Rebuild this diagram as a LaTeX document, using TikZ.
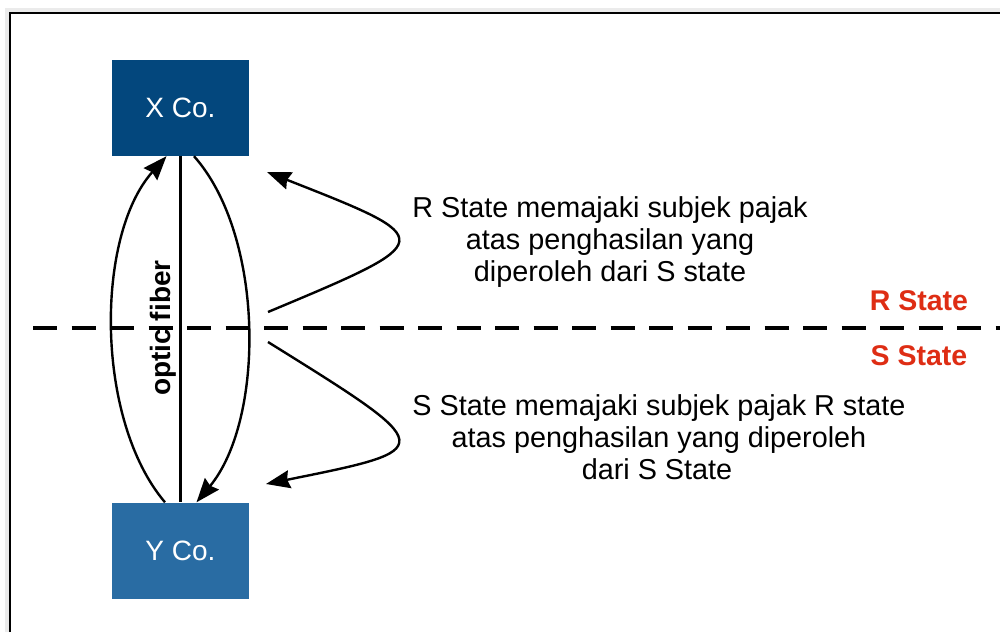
\documentclass[tikz,border=0pt]{standalone}
\usepackage{fontspec}
\setmainfont{Liberation Sans}
\usetikzlibrary{arrows.meta}
\definecolor{xblue}{RGB}{3,71,125}
\definecolor{yblue}{RGB}{41,108,163}
\definecolor{statered}{RGB}{222,45,20}
\begin{document}
\begin{tikzpicture}[x=1pt,y=-1pt,
  company/.style={draw=none, minimum width=137pt, minimum height=96pt, inner sep=0pt, text=white, font=\fontsize{28}{32}\selectfont},
  link/.style={line width=2.4pt, black},
  arrowed/.style={-{Stealth[length=24pt,width=18pt,inset=2.5pt]}},
  txt/.style={anchor=base, inner sep=0pt, font=\fontsize{28.8}{32}\selectfont},
  statelbl/.style={anchor=base, inner sep=0pt, text=statered, font=\bfseries\fontsize{28.5}{32}\selectfont},
  divider/.style={line width=4.5pt, black, dash pattern=on 24pt off 14.5pt}]
\useasboundingbox (0,0) rectangle (1000,632);
% frame
\draw[line width=4pt, black!8] (7,632) -- (7,10) -- (1000,10);
\draw[line width=2pt] (10,632) -- (10,13) -- (1000,13);
% companies
\node[company, fill=xblue] (X) at (180.5,108) {X Co.};
\node[company, fill=yblue] (Y) at (180.5,550.5) {Y Co.};
% dashed divider
\coordinate (dl) at (33,328);
\coordinate (dr) at (1000,328);
\draw[divider] (dl) -- (dr);
% links between companies
\draw[link] (X.south) -- (Y.north);
\draw[link, arrowed] ([xshift=-15.5pt]Y.north) .. controls (95,420) and (95,236) .. ([xshift=-14pt]X.south);
\draw[link, arrowed] ([xshift=13.5pt]X.south) .. controls (265,236) and (265,420) .. ([xshift=16pt]Y.north);
\node[rotate=90, inner sep=0pt, font=\bfseries\fontsize{28}{32}\selectfont] (of) at (163,328) {optic fiber};
% curved arrows
\coordinate (r1) at (268,312);
\coordinate (r2) at (267,172);
\coordinate (s1) at (268,342);
\coordinate (s2) at (266,484);
\draw[link, arrowed] (r1) .. controls (440,240) and (440,240) .. (r2);
\draw[link, arrowed] (s1) .. controls (440,449) and (440,449) .. (s2);
% texts
\node[txt] (ra) at (610,217) {R State memajaki subjek pajak};
\node[txt] (rb) at (610,249) {atas penghasilan yang};
\node[txt] (rc) at (610,281) {diperoleh dari S state};
\node[txt] (sa) at (659,415) {S State memajaki subjek pajak R state};
\node[txt] (sb) at (659,447) {atas penghasilan yang diperoleh};
\node[txt] (sc) at (657,479) {dari S State};
\node[statelbl] (rs) at (919,310) {R State};
\node[statelbl] (ss) at (919,365) {S State};
\end{tikzpicture}
\end{document}
